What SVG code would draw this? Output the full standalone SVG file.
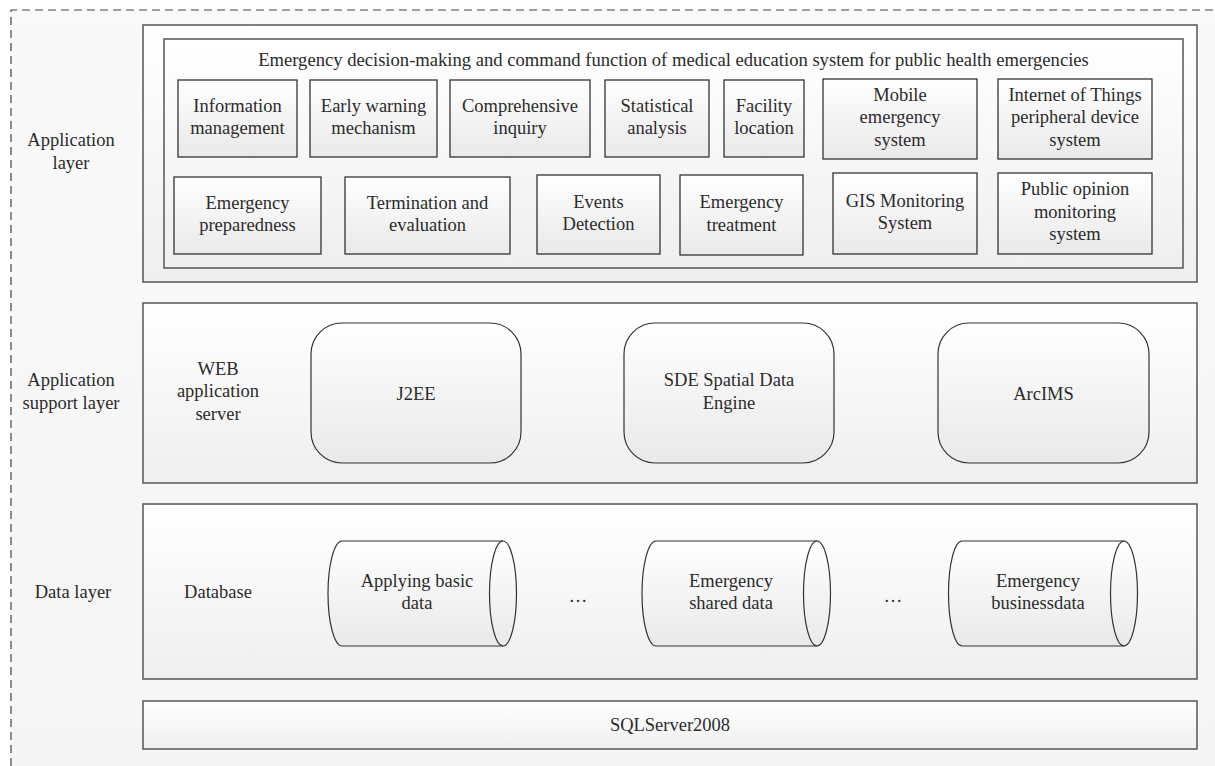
<svg xmlns="http://www.w3.org/2000/svg" width="1215" height="766" viewBox="0 0 1215 766">
<defs>
<linearGradient id="gBox" x1="0" y1="0" x2="0" y2="1"><stop offset="0" stop-color="#ffffff"/><stop offset="1" stop-color="#e9e9e9"/></linearGradient>
<linearGradient id="gLayer" x1="0" y1="0" x2="0" y2="1"><stop offset="0" stop-color="#ffffff"/><stop offset="1" stop-color="#efefef"/></linearGradient>
<linearGradient id="gBg" x1="0" y1="0" x2="0" y2="1"><stop offset="0" stop-color="#f9f9f9"/><stop offset="1" stop-color="#f5f5f5"/></linearGradient>
<style>
text{font-family:"Liberation Serif","Times New Roman",serif;font-size:18.5px;fill:#2b2b2b;text-anchor:middle}
.title{font-size:18.6px}
.layer{fill:url(#gLayer);stroke:#555;stroke-width:1.5}
.box{fill:url(#gBox);stroke:#333;stroke-width:1.3}
.rbox{fill:url(#gBox);stroke:#333;stroke-width:1.2}
.cyl{fill:url(#gBox);stroke:#333;stroke-width:1.2}
.cyl2{fill:none;stroke:#333;stroke-width:1.2}
.dash{fill:none;stroke:#444;stroke-width:1.2;stroke-dasharray:8 5}
</style>
</defs>
<rect x="0" y="0" width="1215" height="766" fill="#ffffff"/>
<rect x="11" y="10" width="1204" height="756" fill="url(#gBg)"/>
<path class="dash" d="M11,766 L11,10 L1215,10"/>

<g id="application-layer">
<rect class="layer" x="143" y="25" width="1054" height="257"/>
<text x="71"><tspan x="71" y="146">Application</tspan><tspan x="71" y="168.5">layer</tspan></text>
</g>
<g id="emergency-function">
<rect class="layer" x="164" y="39" width="1019" height="229"/>
<text class="title" x="673.5" y="66">Emergency decision-making and command function of medical education system for public health emergencies</text>
</g>
<g id="information-management"><rect class="box" x="178" y="80" width="119" height="77"/><text><tspan x="237.5" y="111.5">Information</tspan><tspan x="237.5" y="134">management</tspan></text></g>
<g id="early-warning"><rect class="box" x="310" y="80" width="127" height="77"/><text><tspan x="373.5" y="111.5">Early warning</tspan><tspan x="373.5" y="134">mechanism</tspan></text></g>
<g id="comprehensive-inquiry"><rect class="box" x="450" y="80" width="140" height="77"/><text><tspan x="520" y="111.5">Comprehensive</tspan><tspan x="520" y="134">inquiry</tspan></text></g>
<g id="statistical-analysis"><rect class="box" x="605" y="80" width="104" height="77"/><text><tspan x="657" y="111.5">Statistical</tspan><tspan x="657" y="134">analysis</tspan></text></g>
<g id="facility-location"><rect class="box" x="724" y="80" width="80" height="77"/><text><tspan x="764" y="111.5">Facility</tspan><tspan x="764" y="134">location</tspan></text></g>
<g id="mobile-emergency"><rect class="box" x="823" y="79" width="154" height="80"/><text><tspan x="900" y="100.5">Mobile</tspan><tspan x="900" y="123">emergency</tspan><tspan x="900" y="145.5">system</tspan></text></g>
<g id="iot-system"><rect class="box" x="998" y="79" width="154" height="80"/><text><tspan x="1075" y="100.5">Internet of Things</tspan><tspan x="1075" y="123">peripheral device</tspan><tspan x="1075" y="145.5">system</tspan></text></g>

<g id="emergency-preparedness"><rect class="box" x="174" y="177" width="147" height="77"/><text><tspan x="247.5" y="208.5">Emergency</tspan><tspan x="247.5" y="231">preparedness</tspan></text></g>
<g id="termination-evaluation"><rect class="box" x="345" y="177" width="165" height="77"/><text><tspan x="427.5" y="208.5">Termination and</tspan><tspan x="427.5" y="231">evaluation</tspan></text></g>
<g id="events-detection"><rect class="box" x="537" y="175" width="123" height="79"/><text><tspan x="598.5" y="207.5">Events</tspan><tspan x="598.5" y="230">Detection</tspan></text></g>
<g id="emergency-treatment"><rect class="box" x="680" y="175" width="123" height="80"/><text><tspan x="741.5" y="208">Emergency</tspan><tspan x="741.5" y="230.5">treatment</tspan></text></g>
<g id="gis-monitoring"><rect class="box" x="833" y="173" width="144" height="81"/><text><tspan x="905" y="206.5">GIS Monitoring</tspan><tspan x="905" y="229">System</tspan></text></g>
<g id="public-opinion"><rect class="box" x="998" y="173" width="154" height="81"/><text><tspan x="1075" y="195">Public opinion</tspan><tspan x="1075" y="217.5">monitoring</tspan><tspan x="1075" y="240">system</tspan></text></g>

<g id="application-support-layer">
<rect class="layer" x="143" y="303" width="1054" height="180"/>
<text><tspan x="71" y="386">Application</tspan><tspan x="71" y="408.5">support layer</tspan></text>
<text><tspan x="218" y="374.5">WEB</tspan><tspan x="218" y="397">application</tspan><tspan x="218" y="419.5">server</tspan></text>
</g>
<g id="j2ee"><rect class="rbox" x="311" y="323" width="210" height="140" rx="31" ry="31"/><text x="416" y="399.5">J2EE</text></g>
<g id="sde"><rect class="rbox" x="624" y="323" width="210" height="140" rx="31" ry="31"/><text><tspan x="729" y="386">SDE Spatial Data</tspan><tspan x="729" y="408.5">Engine</tspan></text></g>
<g id="arcims"><rect class="rbox" x="938" y="323" width="211" height="140" rx="31" ry="31"/><text x="1043.5" y="399.5">ArcIMS</text></g>

<g id="data-layer">
<rect class="layer" x="143" y="504" width="1054" height="175"/>
<text x="73" y="597.5">Data layer</text>
<text x="218" y="597.5">Database</text>
<text x="578" y="602">…</text>
<text x="893" y="602">…</text>
</g>
<g id="applying-basic-data">
<path class="cyl" d="M342,541 L503,541 A13.5,52.5 0 0 1 503,646 L342,646 A14,52.5 0 0 1 342,541 Z"/>
<path class="cyl2" d="M503,541 A13.5,52.5 0 0 0 503,646"/>
<text><tspan x="417" y="586.5">Applying basic</tspan><tspan x="417" y="609">data</tspan></text>
</g>
<g id="emergency-shared-data">
<path class="cyl" d="M656,541 L817,541 A13.5,52.5 0 0 1 817,646 L656,646 A14,52.5 0 0 1 656,541 Z"/>
<path class="cyl2" d="M817,541 A13.5,52.5 0 0 0 817,646"/>
<text><tspan x="731" y="586.5">Emergency</tspan><tspan x="731" y="609">shared data</tspan></text>
</g>
<g id="emergency-business-data">
<path class="cyl" d="M962,541 L1124,541 A13.5,52.5 0 0 1 1124,646 L962,646 A13.5,52.5 0 0 1 962,541 Z"/>
<path class="cyl2" d="M1124,541 A13.5,52.5 0 0 0 1124,646"/>
<text><tspan x="1038" y="586.5">Emergency</tspan><tspan x="1038" y="609">businessdata</tspan></text>
</g>

<g id="sqlserver">
<rect class="layer" x="143" y="701" width="1054" height="48"/>
<text x="670" y="731">SQLServer2008</text>
</g>
<g id="connectors"></g>
</svg>
